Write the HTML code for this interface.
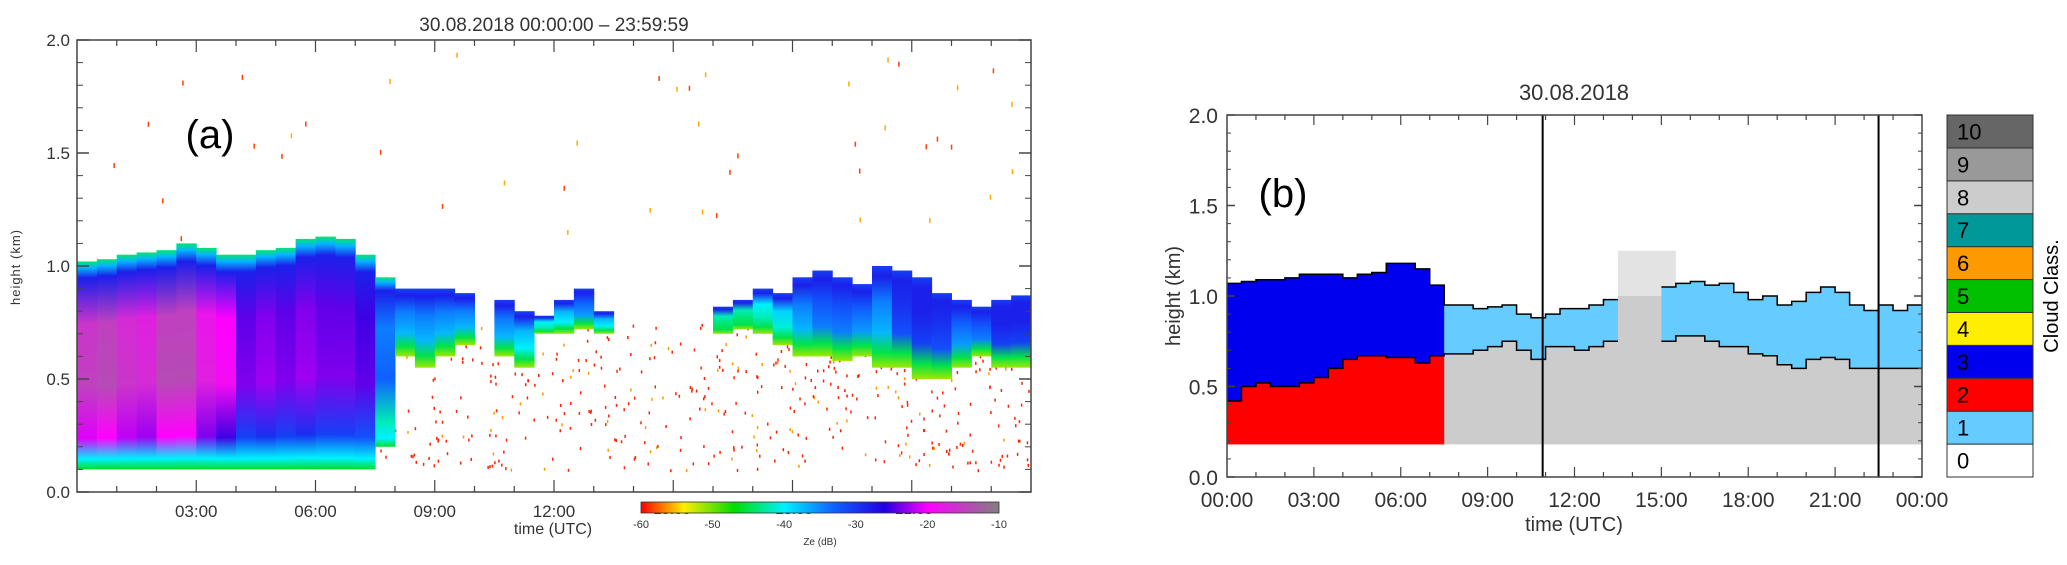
<!DOCTYPE html>
<html><head><meta charset="utf-8"><style>
html,body{margin:0;padding:0;background:#fff;}
svg{display:block;font-family:"Liberation Sans",sans-serif;}
text{fill:#333;}
</style></head><body>
<svg id="svg" width="2067" height="565" viewBox="0 0 2067 565" xmlns="http://www.w3.org/2000/svg">
<defs id="defs"></defs>
<text x="554" y="31" font-size="19" text-anchor="middle">30.08.2018 00:00:00 – 23:59:59</text>
<g id="speck"></g>
<g id="plotA"></g>
<rect x="77" y="40" width="954" height="452" fill="none" stroke="#444" stroke-width="1.5"/>
<g id="axA"></g>
<text x="210" y="148" font-size="40" text-anchor="middle" style="fill:#000">(a)</text>
<text transform="translate(20,267) rotate(-90)" font-size="13" text-anchor="middle" letter-spacing="1">height (km)</text>
<text x="553" y="534" font-size="16" text-anchor="middle">time (UTC)</text>
<defs><linearGradient id="cbar" x1="0" x2="1" y1="0" y2="0">
<stop offset="0" stop-color="#ff0000"/><stop offset="0.12" stop-color="#ffee00"/><stop offset="0.26" stop-color="#00dd00"/><stop offset="0.4" stop-color="#00f0ff"/><stop offset="0.54" stop-color="#1060ff"/><stop offset="0.68" stop-color="#2000e0"/><stop offset="0.8" stop-color="#ff00ff"/><stop offset="1" stop-color="#808080"/></linearGradient></defs>
<rect x="641" y="502" width="358" height="11" fill="url(#cbar)" stroke="#333" stroke-width="0.8"/>
<g id="cbTicks"></g>
<text x="820" y="545" font-size="10" text-anchor="middle">Ze (dB)</text>

<text x="1574" y="100" font-size="22" text-anchor="middle">30.08.2018</text>
<g id="plotB"></g>
<rect x="1227" y="115" width="695" height="362" fill="none" stroke="#444" stroke-width="1.5"/>
<g id="axB"></g>
<text x="1283" y="207" font-size="40" text-anchor="middle" style="fill:#000">(b)</text>
<text transform="translate(1180,296) rotate(-90)" font-size="20" text-anchor="middle">height (km)</text>
<text x="1574" y="531" font-size="20" text-anchor="middle">time (UTC)</text>
<g id="legend"></g>
<text transform="translate(2058,296) rotate(-90)" font-size="20" text-anchor="middle" style="fill:#000">Cloud Class.</text>
</svg>
<script>
// ---------- Panel (a) data (half-hour bins) ----------
const hoursA=[0,0.5,1,1.5,2,2.5,3,3.5,4,4.5,5,5.5,6,6.5,7,7.5,8,8.5,9,9.5,10,10.5,11,11.5,12,12.5,13,13.5,14,14.5,15,15.5,16,16.5,17,17.5,18,18.5,19,19.5,20,20.5,21,21.5,22,22.5,23,23.5];
const topA=[1.02,1.03,1.05,1.06,1.07,1.1,1.08,1.05,1.05,1.07,1.08,1.12,1.13,1.12,1.05,0.95,0.9,0.9,0.9,0.88,0,0.85,0.8,0.78,0.85,0.9,0.8,0,0,0,0,0,0.82,0.85,0.9,0.88,0.95,0.98,0.95,0.92,1.0,0.98,0.95,0.88,0.85,0.82,0.85,0.87];
const baseA=[0.1,0.1,0.1,0.1,0.1,0.1,0.1,0.1,0.1,0.1,0.1,0.1,0.1,0.1,0.1,0.2,0.6,0.55,0.6,0.65,0,0.6,0.55,0.7,0.7,0.72,0.7,0,0,0,0,0,0.7,0.72,0.7,0.65,0.6,0.6,0.58,0.6,0.55,0.55,0.5,0.5,0.55,0.6,0.55,0.55];
const zeA=[-17,-16,-18,-19,-16,-16,-20,-22,-27,-26,-27,-26,-27,-27,-28,-36,-38,-38,-38,-38,0,-38,-40,-42,-40,-37,-40,0,0,0,0,0,-44,-44,-42,-41,-38,-36,-36,-37,-38,-34,-33,-34,-37,-36,-33,-33];
const yTicksA=["0.0","0.5","1.0","1.5","2.0"];
const xTicksA=["03:00","06:00","09:00","12:00"];
const cbTicks=[-60,-50,-40,-30,-20,-10];
// ---------- Panel (b) data ----------
const topB=[1.07,1.08,1.09,1.09,1.1,1.12,1.12,1.12,1.1,1.12,1.13,1.18,1.18,1.15,1.06,0.95,0.95,0.93,0.94,0.95,0.9,0.88,0.9,0.93,0.93,0.95,0.98,1.0,1.0,1.0,1.05,1.07,1.08,1.06,1.07,1.02,0.98,1.0,0.95,0.97,1.02,1.05,1.02,0.95,0.92,0.95,0.92,0.95];
const midB=[0.42,0.5,0.52,0.5,0.5,0.52,0.55,0.6,0.65,0.67,0.67,0.66,0.66,0.63,0.67,0.68,0.68,0.7,0.72,0.75,0.7,0.65,0.72,0.72,0.7,0.72,0.75,1.0,1.0,1.0,0.75,0.78,0.78,0.75,0.72,0.72,0.68,0.67,0.62,0.6,0.65,0.66,0.65,0.6,0.6,0.6,0.6,0.6];
const upperCls=[3,3,3,3,3,3,3,3,3,3,3,3,3,3,3,1,1,1,1,1,1,1,1,1,1,1,1,1,1,1,1,1,1,1,1,1,1,1,1,1,1,1,1,1,1,1,1,1];
const lowerCls=[2,2,2,2,2,2,2,2,2,2,2,2,2,2,2,8,8,8,8,8,8,8,8,8,8,8,8,8,8,8,8,8,8,8,8,8,8,8,8,8,8,8,8,8,8,8,8,8];
const vLines=[10.9,22.5];
const xTicksB=["00:00","03:00","06:00","09:00","12:00","15:00","18:00","21:00","00:00"];
const classLabels=["0","1","2","3","4","5","6","7","8","9","10"];
const classColors=["#ffffff","#66ccff","#ff0000","#0000ee","#ffee00","#00c000","#ff9900","#009999","#cccccc","#999999","#666666"];

const NS="http://www.w3.org/2000/svg";
function mk(tag,attrs,parent){const e=document.createElementNS(NS,tag);for(const k in attrs)e.setAttribute(k,attrs[k]);parent.appendChild(e);return e;}
const xA=h=>77+h/24*954, yA=v=>492-v/2*452;
const xB=h=>1227+h/24*695, yB=v=>477-v/2*362;

const cmap=[[-60,[255,0,0]],[-55,[255,238,0]],[-47,[0,221,0]],[-40,[0,240,255]],[-35,[16,96,255]],[-29,[32,0,224]],[-22,[255,0,255]],[-10,[128,128,128]]];
function col(z){if(z<=cmap[0][0])return"rgb(255,0,0)";for(let i=1;i<cmap.length;i++){if(z<=cmap[i][0]){const a=cmap[i-1],b=cmap[i],t=(z-a[0])/(b[0]-a[0]);return"rgb("+a[1].map((c,j)=>Math.round(c+(b[1][j]-c)*t)).join(",")+")";}}return"rgb(128,128,128)";}

// decorative noise speckles (deterministic texture)
const sp=document.getElementById('speck');
let seed=7;const rnd=()=>{seed=(seed*16807)%2147483647;return seed/2147483647;};
for(let k=0;k<520;k++){const h=7+rnd()*17,v=0.1+rnd()*0.65;
  mk('rect',{x:xA(h),y:yA(v),width:1.5,height:3,fill:rnd()<0.8?'#ff2000':'#ff9900'},sp);}
for(let k=0;k<45;k++){const h=rnd()*24,v=1.1+rnd()*0.88;
  mk('rect',{x:xA(h),y:yA(v),width:1.5,height:5,fill:rnd()<0.5?'#ffaa00':'#ff4000'},sp);}

const defs=document.getElementById('defs');
const pA=document.getElementById('plotA');
hoursA.forEach((h,i)=>{
  if(!topA[i])return;
  const g=mk('linearGradient',{id:'ga'+i,x1:0,x2:0,y1:0,y2:1},defs);
  const z=zeA[i];
  const tall=baseA[i]<0.3;
  const stops=tall?[[0,-44],[0.03,-38],[0.08,-31],[0.3,z],[0.6,z+1],[0.85,z-6],[0.95,-40],[1,-46]]
                  :[[0,-33],[0.1,-31],[0.35,z+2],[0.65,z],[0.85,-45],[1,-52]];
  stops.forEach(s=>mk('stop',{offset:s[0],'stop-color':col(s[1])},g));
  const r=mk('rect',{x:xA(h),y:yA(topA[i]),width:xA(0.5)-xA(0)+0.5,height:yA(baseA[i])-yA(topA[i]),fill:'url(#ga'+i+')'},pA);
  
  
});
const axA=document.getElementById('axA');
yTicksA.forEach(t=>{const y=yA(+t);
  const tx=mk('text',{x:70,y:y+6,'font-size':17,'text-anchor':'end'},axA);tx.textContent=t;
  
  mk('line',{x1:77,x2:89,y1:y,y2:y,stroke:'#444','stroke-width':1.5},axA);
  mk('line',{x1:1031,x2:1019,y1:y,y2:y,stroke:'#444','stroke-width':1.5},axA);});
for(let v=0.1;v<2;v+=0.1){const y=yA(v);mk('line',{x1:77,x2:83,y1:y,y2:y,stroke:'#444'},axA);mk('line',{x1:1031,x2:1025,y1:y,y2:y,stroke:'#444'},axA);}
for(let h=1;h<24;h++){const x=xA(h),L=h%3?6:12;mk('line',{x1:x,x2:x,y1:492,y2:492-L,stroke:'#444','stroke-width':1.2},axA);mk('line',{x1:x,x2:x,y1:40,y2:40+L,stroke:'#444','stroke-width':1.2},axA);}
xTicksA.forEach(t=>{const h=parseInt(t);const tx=mk('text',{x:xA(h),y:517,'font-size':17,'text-anchor':'middle'},axA);tx.textContent=t;
  });
[["15:00",672],["18:00",794],["21:00",914]].forEach(o=>{const tx=mk('text',{x:o[1],y:514,'font-size':15,'text-anchor':'middle'},axA);tx.textContent=o[0];
  });
const cbg=document.getElementById('cbTicks');
cbTicks.forEach(v=>{const x=641+(v+60)/50*358;const tx=mk('text',{x:x,y:528,'font-size':11,'text-anchor':'middle'},cbg);tx.textContent=v;
  });

const pB=document.getElementById('plotB');
const base=0.18, w=xB(0.5)-xB(0);
mk('rect',{x:xB(13.5),y:yB(1.25),width:xB(15.5)-xB(13.5),height:yB(1.0)-yB(1.25),fill:'#cccccc',opacity:0.55},pB);
midB.forEach((m,i)=>{
  const h=i*0.5;
  const lr=mk('rect',{x:xB(h),y:yB(m),width:w+0.5,height:yB(base)-yB(m),fill:classColors[lowerCls[i]]},pB);
  
  if(topB[i]>m){const ur=mk('rect',{x:xB(h),y:yB(topB[i]),width:w+0.5,height:yB(m)-yB(topB[i]),fill:classColors[upperCls[i]]},pB);
    }
});
function stepPath(arr,skip){let d='';arr.forEach((v,i)=>{if(skip(i)){return;}const x0=xB(i*0.5),x1=xB(i*0.5+0.5),y=yB(v);d+=(d&&!skip(i-1)?'L':'M')+x0+','+y+'L'+x1+','+y;});return d;}
const sk=i=>i>=27&&i<=29;
const tp=mk('path',{d:stepPath(topB,sk),fill:'none',stroke:'#000','stroke-width':1.5},pB);

const mp=mk('path',{d:stepPath(midB,sk),fill:'none',stroke:'#000','stroke-width':1.5},pB);

vLines.forEach(h=>{const l=mk('line',{x1:xB(h),x2:xB(h),y1:115,y2:477,stroke:'#000','stroke-width':2},pB);
  });
const axB=document.getElementById('axB');
yTicksA.forEach(t=>{const y=yB(+t);
  const tx=mk('text',{x:1218,y:y+8,'font-size':21,'text-anchor':'end'},axB);tx.textContent=t;
  
  mk('line',{x1:1227,x2:1235,y1:y,y2:y,stroke:'#444','stroke-width':1.5},axB);
  mk('line',{x1:1922,x2:1914,y1:y,y2:y,stroke:'#444','stroke-width':1.5},axB);});
for(let v=0.1;v<2;v+=0.1){const y=yB(v);mk('line',{x1:1227,x2:1231,y1:y,y2:y,stroke:'#444'},axB);mk('line',{x1:1922,x2:1918,y1:y,y2:y,stroke:'#444'},axB);}
for(let h=1;h<24;h++){const x=xB(h),L=h%3?5:10;mk('line',{x1:x,x2:x,y1:477,y2:477-L,stroke:'#444','stroke-width':1.2},axB);mk('line',{x1:x,x2:x,y1:115,y2:115+L,stroke:'#444','stroke-width':1.2},axB);}
xTicksB.forEach((t,i)=>{const tx=mk('text',{x:xB(i*3),y:507,'font-size':21,'text-anchor':'middle'},axB);tx.textContent=t;
  });
const lg=document.getElementById('legend');
const bh=(477-115)/11;
classLabels.forEach((lab,i)=>{const y=477-(i+1)*bh;
  const r=mk('rect',{x:1947,y:y,width:86,height:bh,fill:classColors[i],stroke:'#333','stroke-width':1},lg);
  
  const tx=mk('text',{x:1957,y:y+bh/2+8,'font-size':22},lg);tx.setAttribute('style','fill:#000');tx.textContent=lab;
  });
</script>
</body></html>
